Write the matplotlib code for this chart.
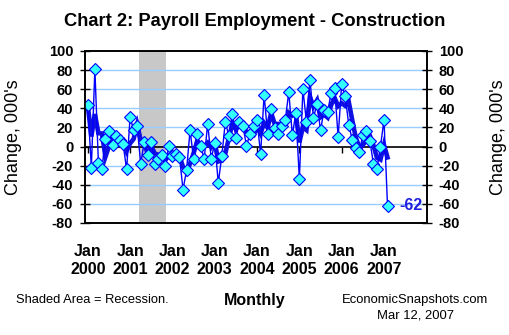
import matplotlib
matplotlib.use("Agg")
import matplotlib.pyplot as plt
import numpy as np
import pandas as pd

plt.rcParams['font.family'] = ['Liberation Sans', 'DejaVu Sans']

# Monthly change in construction payroll employment, 000's (Jan 2000 - Feb 2007)
values = [43, -22, 81, -17, -23, 8, 16, 2, 11, 7, 3, -24,
          31, 17, 21, -18, 5, -9, 5, -18, -13, -9, -20, 1,
          -10, -8, -11, -45, -25, 17, -13, 13, 1, -13, 24, -13,
          4, -38, -10, 26, 11, 34, 9, 26, 21, 1, 13, 21,
          28, -8, 54, 13, 39, 19, 13, 21, 28, 57, 12, 35,
          -34, 60, 26, 70, 30, 45, 17, 38, 36, 56, 61, 10,
          65, 53, 23, 7, -2, -6, 12, 16, 6, -18, -23, 0,
          28, -62]
year_labels = [f"Jan\n{y}" for y in range(2000, 2008)]
recession_start = 14   # Mar 2001 (month index)
recession_end = 22     # Nov 2001 (month index)
yticks = list(range(-80, 101, 20))
last_label = "-62"

months = np.arange(len(values))
s = pd.Series(values, dtype=float)
ma3 = s.rolling(3, min_periods=1).mean()

L, R, T, B = 85, 427, 51, 223
fig = plt.figure(figsize=(5.10, 3.35), dpi=100)
ax = fig.add_axes([L/510, 1-B/335, (R-L)/510, (B-T)/335])

ax.set_xlim(-0.8, 96.2)
ax.set_ylim(-80, 100)

ax.axvspan(recession_start + 0.4, recession_end + 0.3, color='#C8C8C8', lw=0, zorder=0)
for yv in yticks:
    if yv not in (-80, 100, 0):
        ax.axhline(yv, color='#99CCFF', lw=1, zorder=1)
ax.axhline(0, color='black', lw=1.2, zorder=2)

ax.plot(months, ma3, color='#1010E0', lw=3.3, zorder=3, solid_joinstyle='miter')
ax.plot(months, s, color='#0000FF', lw=1, zorder=4)
ax.plot(months, s, ls='none', marker='D', ms=6.3, mfc='#33FFFF', mec='#0000FF', mew=0.8, zorder=5)

ax.text(months[-1] + 3.3, values[-1], last_label, color='#1F1FE0', fontsize=11.5,
        fontweight='bold', ha='left', va='center')

ax.set_yticks(yticks)
ax.set_yticklabels([str(v) for v in yticks], fontsize=10.5, fontweight='bold')
ax.tick_params(axis='y', direction='inout', length=7, width=1, pad=5)
ax.set_xticks(np.arange(0, 96, 12))
ax.set_xticklabels(year_labels, fontsize=11.5, fontweight='bold', linespacing=1.3)
ax.tick_params(axis='x', length=0, pad=15)
for sp in ax.spines.values():
    sp.set_linewidth(1.2)

sec = ax.secondary_xaxis(80/180)
sec.set_xticks(np.arange(0, 96, 12))
sec.set_xticklabels([])
sec.tick_params(direction='out', length=4, width=1)
sec.spines['bottom'].set_visible(False)

ax2 = ax.twinx()
ax2.set_ylim(-80, 100)
ax2.set_yticks(yticks)
ax2.set_yticklabels([str(v) for v in yticks], fontsize=10.5, fontweight='bold')
ax2.tick_params(axis='y', direction='inout', length=7, width=1, pad=5)
for sp in ax2.spines.values():
    sp.set_linewidth(1.2)

ax.set_ylabel("Change, 000's", fontsize=13)
ax.yaxis.set_label_coords((22 - L)/(R - L), 0.5)
ax2.set_ylabel("Change, 000's", fontsize=13, rotation=90)
ax2.yaxis.set_label_coords((490 - L)/(R - L), 0.5)

fig.text(0.5, 1-22/335, "Chart 2: Payroll Employment - Construction", ha='center', va='center',
         fontsize=13.2, fontweight='bold')
fig.text(16/510, 1-300/335, "Shaded Area = Recession.", ha='left', va='center', fontsize=9.3)
fig.text(255/510, 1-300/335, "Monthly", ha='center', va='center', fontsize=11.5, fontweight='bold')
fig.text(415/510, 1-300/335, "EconomicSnapshots.com", ha='center', va='center', fontsize=9.4)
fig.text(415.5/510, 1-316/335, "Mar 12, 2007", ha='center', va='center', fontsize=9.4)

fig.savefig("out.png", dpi=100)
